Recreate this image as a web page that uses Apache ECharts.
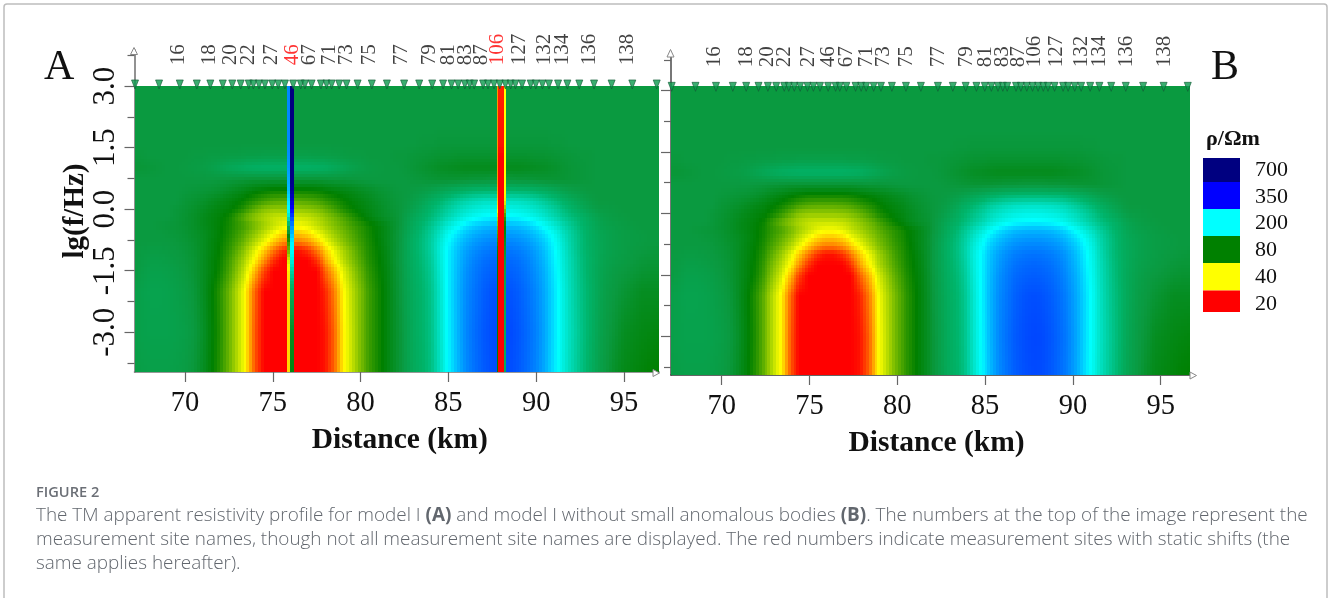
<!DOCTYPE html>
<html><head><meta charset="utf-8">
<style>html,body{margin:0;padding:0;background:#fff}#c{width:1328px;height:598px}</style>
<script src="https://cdn.jsdelivr.net/npm/echarts@6/dist/echarts.min.js"></script>
</head><body><div id="c"></div>
<script>
// ---- data ----
const columnKm = [67,67.5,68,68.5,69,69.5,70,70.5,71,71.5,72,72.5,73,73.5,74,74.5,75,75.5,76,76.5,77,77.5,78,78.5,79,79.5,80,80.5,81,81.5,82,82.5,83,83.5,84,84.5,85,85.5,86,86.5,87,87.5,88,88.5,89,89.5,90,90.5,91,91.5,92,92.5,93,93.5,94,94.5,95,95.5,96,96.5,97];
const rowLgF = [3.12,2,1.6,1.3,1,0.7,0.45,0.2,0,-0.2,-0.4,-0.6,-0.8,-1,-1.25,-1.5,-2,-3,-3.97];
const rhoField = [
[100,100,100,100,100,100,100,100,100,100,100,100,100,100,100,100,100,100,100,100,100,100,100,100,100,100,100,100,100,100,100,100,100,100,100,100,100,100,100,100,100,100,100,100,100,100,100,100,100,100,100,100,100,100,100,100,100,100,100,100,100],
[100,100,100,100,100,100,100,100,100,100,100,100,100,100,100,100,100,100,100,100,100,100,100,100,100,100,100,100,100,100,100,100,100,100,100,100,100,100,100,100,100,100,100,100,100,100,100,100,100,100,100,100,100,100,100,100,100,100,100,100,100],
[100,100,100,100,100,100,100,100,100,100,100,100,100,100,100,100,100,100,100,100,100,100,100,100,100,100,100,100,100,100,100,100,100,99,99,98,98,98,98,98,98,98,98,98,98,98,98,98,99,99,100,100,100,100,100,100,100,100,100,100,100],
[99,99,100,100,100,100,100,101,101,102,102,103,103,104,104,105,105,105,105,105,105,104,104,103,102,101,101,100,100,100,99,99,98,97,96,95,95,94,94,94,94,94,94,94,94,94,95,95,96,97,98,99,99,100,100,100,100,100,100,100,100],
[97,97,98,99,100,100,101,102,103,105,109,113,116,119,121,122,122,122,122,122,122,121,119,115,111,107,104,102,101,100,100,99,97,95,93,91,90,89,88,88,88,88,88,88,88,89,90,91,93,95,97,98,99,100,100,100,100,100,100,100,100],
[100,100,100,100,100,100,100,100,100,100,99,98,97,96,95,95,95,95,95,95,95,95,96,97,97,98,99,100,100,100,100,100,99,98,97,96,96,96,97,98,98,99,99,99,98,98,97,96,96,96,97,98,99,100,100,100,100,100,100,100,100],
[100,100,100,100,100,100,99,98,97,96,94,91,88,85,82,80,78,78,78,78,78,79,81,83,85,87,90,92,95,97,99,100,101,103,106,110,114,118,122,125,126,127,127,127,126,125,122,118,113,108,104,102,100,100,100,100,100,100,100,100,100],
[100,100,100,100,100,100,97,95,93,90,87,84,81,77,72,67,64,63,63,63,64,66,70,74,78,82,85,88,92,95,98,100,104,110,118,126,135,145,153,160,164,166,167,166,164,160,153,143,133,124,116,109,104,100,100,100,100,100,100,100,100],
[100,100,100,100,100,98,96,93,90,87,84,82,77,70,62,56,54,54,54,54,55,57,61,67,74,79,83,86,90,94,97,101,107,115,125,135,146,158,168,176,181,184,185,184,181,176,168,158,146,134,124,115,108,103,102,101,100,100,100,100,100],
[100,100,100,100,100,98,95,92,88,85,82,77,68,60,54,50,47,46,46,46,47,50,54,59,65,72,79,84,89,93,96,103,112,120,130,143,156,170,184,194,200,203,205,203,200,194,184,170,156,143,132,124,115,108,104,102,101,100,100,100,100],
[100,100,100,99,98,97,95,92,88,85,81,76,70,65,58,52,47,43,41,41,43,47,51,56,61,67,72,77,82,88,95,104,115,126,140,158,176,195,212,224,231,234,235,234,231,224,212,195,176,158,142,128,118,110,106,104,102,101,100,100,100],
[100,100,100,100,99,98,96,93,90,86,81,75,68,61,54,47,41,36,34,34,36,41,46,52,58,64,71,76,82,88,96,106,118,130,145,168,192,212,228,239,246,249,250,249,246,239,228,212,192,168,148,132,120,112,108,105,103,102,101,100,100],
[100,100,100,100,100,99,97,94,90,85,80,73,65,57,49,42,35,30,28,28,30,35,41,48,55,62,69,75,81,88,96,107,120,132,148,175,200,222,238,250,257,261,262,261,257,250,238,222,200,174,150,133,120,113,108,105,103,102,101,100,100],
[100,101,102,102,101,100,98,95,90,85,79,71,61,52,43,35,28,23,21,21,23,28,35,42,50,58,67,74,80,87,96,107,120,132,148,178,205,228,246,258,266,270,272,270,266,258,246,228,204,178,152,133,121,113,108,105,103,101,100,99,98],
[100,102,104,104,103,101,99,96,90,84,78,68,57,48,39,30,23,20,20,20,20,23,31,39,48,56,65,73,79,86,96,107,119,130,145,176,206,230,250,264,273,278,280,278,273,264,250,232,207,180,155,135,122,113,107,104,102,100,98,97,97],
[100,103,106,106,105,103,100,96,90,84,77,66,54,44,33,24,20,20,20,20,20,20,26,33,43,52,62,71,78,85,95,106,118,128,142,174,206,232,254,268,278,283,285,283,278,268,254,236,210,182,156,136,122,112,106,102,100,98,96,95,95],
[104,106,108,108,107,105,102,98,90,82,72,60,48,38,26,20,20,20,20,20,20,20,22,28,39,48,58,68,76,84,94,105,116,125,138,170,206,234,258,272,284,292,295,292,285,274,260,240,214,186,158,138,124,112,104,100,96,93,90,90,90],
[104,106,107,107,107,106,104,100,92,83,73,60,48,38,25,20,20,20,20,20,20,20,21,26,38,47,58,68,76,84,93,103,115,124,136,168,204,234,260,276,288,296,300,298,290,278,264,242,214,186,160,140,124,110,102,96,90,88,86,85,84],
[102,104,105,105,105,104,102,98,90,82,72,60,48,38,25,20,20,20,20,20,20,20,21,26,38,47,58,68,76,84,93,103,114,122,134,165,202,232,258,274,286,294,298,296,288,276,262,240,212,184,158,138,122,108,100,92,87,85,83,81,80]
];
// static-shift stripes of panel A, one value per row of rowLgF
const shift46Edges = [75.83,75.98,76.2];
const shift46Rho = [
[260,260,260,255,250,240,230,210,200,170,120,90,70,60,45,38,36,36,36],
[700,700,700,700,700,680,600,450,350,300,260,230,205,200,180,150,115,90,85]];
const shift106Edges = [87.76,87.85,88.17,88.28];
const shift106Rho = [
[30,30,30,30,30,30,32,35,38,48,58,65,72,78,80,80,80,80,80],
[22,21,21,20,20,20,20,20,20,20,20,20,20,20,20,20,20,20,20],
[40,40,40,40,40,40,40,42,55,70,80,85,90,95,100,105,110,115,115]];
const siteKm = [67.15,68.52,69.70,70.67,71.44,72.15,72.69,73.17,73.63,73.89,74.21,74.55,74.97,75.31,75.69,76.16,76.59,76.83,77.21,77.74,78.06,78.35,78.78,79.2,79.83,80.64,81.5,82.48,83.34,84.08,84.7,85.18,85.56,85.94,86.22,86.47,86.98,87.26,87.6,87.93,88.25,88.55,88.82,89.2,89.69,89.98,90.36,90.73,91.25,91.78,92.46,93.3,94.3,95.48,96.87];
const labelNames = ['16','18','20','22','27','46','67','71','73','75','77','79','81','83','87','106','127','132','134','136','138'];
const labelKm = [69.6,71.4,72.6,73.6,74.95,76.1,77.1,78.25,79.2,80.5,82.35,83.95,85.0,86.0,86.9,87.8,89.05,90.5,91.5,93.05,95.2];
const redNames = ['46','106'];
const xMajor = [70,75,80,85,90,95];
const xMinor = [67.5,72.5,77.5,82.5,87.5,92.5];
const yMajor = [3,1.5,0,-1.5,-3];
const yMinor = [3.75,2.25,0.75,-0.75,-2.25,-3.75];
const scaleRho = [20,40,80,100,125,200,350,700];
const scaleColors = ['#ff0000','#ffff00','#008000','#0a9a40','#00b46a','#00ffff','#0000ff','#000080'];
const legendLabels = ['700','350','200','80','40','20'];
const legendColors = ['#000080','#0000ff','#00ffff','#008000','#ffff00','#ff0000'];
const legendEdges = [158,182,209,236,263,290.5,312];
const captionHead = 'FIGURE 2';
const captionLines = [
 'The TM apparent resistivity profile for model I {b|(A)} and model I without small anomalous bodies {b|(B)}. The numbers at the top of the image represent the',
 'measurement site names, though not all measurement site names are displayed. The red numbers indicate measurement sites with static shifts (the',
 'same applies hereafter).'];

// ---- helpers ----
const SERIF = '"Liberation Serif","Times New Roman",serif';
const CAP = '"Open Sans","Noto Sans",sans-serif';
const logStops = scaleRho.map(Math.log);
// panel B's picture is very slightly narrower than panel A's along distance
const panelB = km => 67.15+(km-67.15)*0.989;
const same = km => km;
function rhoColor(lr){
  if(lr<=logStops[0]) return scaleColors[0];
  for(let i=1;i<logStops.length;i++){
    if(lr<=logStops[i]){
      const t=(lr-logStops[i-1])/(logStops[i]-logStops[i-1]);
      return echarts.color.lerp(t,[scaleColors[i-1],scaleColors[i]]);
    }
  }
  return scaleColors[scaleColors.length-1];
}
function fieldCells(xs,ys,table,map){
  const cells=[];
  for(let j=0;j<ys.length-1;j++)for(let i=0;i<xs.length-1;i++){
    cells.push([map(xs[i]),ys[j],map(xs[i+1]),ys[j+1],table[j][i],table[j][i+1],table[j+1][i],table[j+1][i+1]]);
  }
  return cells;
}
function stripeCells(edges,table){
  const cells=[];
  for(let c=0;c<table.length;c++)for(let j=0;j<rowLgF.length-1;j++){
    cells.push([edges[c],rowLgF[j],edges[c+1],rowLgF[j+1],table[c][j],table[c][j],table[c][j+1],table[c][j+1]]);
  }
  return cells;
}
function cellSeries(cells,xi,yi,xr,yTop,step){
  return {type:'custom',coordinateSystem:'cartesian2d',xAxisIndex:xi,yAxisIndex:yi,silent:true,animation:false,progressive:0,clip:true,z:2,
    data:cells.map(c=>c.slice(0,4)),encode:{x:[0,2],y:[1,3]},
    renderItem(params,api){
      const c=cells[params.dataIndex];
      const k0=Math.max(c[0],xr[0]),k1=Math.min(c[2],xr[1]);
      if(k1<=k0) return {type:'group',children:[]};
      const v0=Math.min(c[1],yTop),v1=c[3];
      if(v0<=v1) return {type:'group',children:[]};
      const pa=api.coord([k0,v0]),pb=api.coord([k1,v1]);
      const w=pb[0]-pa[0],h=pb[1]-pa[1];
      const nx=Math.max(1,Math.round(w/step)),ny=Math.max(1,Math.round(h/step));
      const l=[c[4],c[5],c[6],c[7]].map(Math.log);
      const kids=[];
      for(let a=0;a<ny;a++){
        const y0=Math.round(pa[1]+h*a/ny),y1=Math.round(pa[1]+h*(a+1)/ny);
        const vm=v0+(v1-v0)*(a+0.5)/ny,tv=(c[1]-vm)/(c[1]-c[3]);
        for(let b=0;b<nx;b++){
          const x0=Math.round(pa[0]+w*b/nx),x1=Math.round(pa[0]+w*(b+1)/nx);
          const km=k0+(k1-k0)*(b+0.5)/nx,tu=(km-c[0])/(c[2]-c[0]);
          const lr=(l[0]*(1-tu)+l[1]*tu)*(1-tv)+(l[2]*(1-tu)+l[3]*tu)*tv;
          kids.push({type:'rect',shape:{x:x0,y:y0,width:Math.max(1,x1-x0),height:Math.max(1,y1-y0)},style:{fill:rhoColor(lr)}});
        }
      }
      return {type:'group',children:kids};
    }};
}
function sitesSeries(xi,yi,yVal,border,map){
  return {type:'scatter',xAxisIndex:xi,yAxisIndex:yi,clip:false,silent:true,animation:false,z:5,
    symbol:'triangle',symbolRotate:180,symbolSize:[7,9],
    itemStyle:{color:'#0a9a4c',borderColor:border,borderWidth:0.8},
    data:siteKm.map(k=>[map(k),yVal])};
}
function labelSeries(xi,yi,yVal,useRed){
  return {type:'scatter',xAxisIndex:xi,yAxisIndex:yi,clip:false,silent:true,animation:false,z:6,
    symbolSize:1,itemStyle:{color:'rgba(0,0,0,0)'},
    data:labelNames.map((n,i)=>({value:[labelKm[i],yVal],
      label:{show:true,position:'inside',rotate:90,align:'left',verticalAlign:'middle',
        formatter:n,fontFamily:SERIF,fontSize:21,color:(useRed&&redNames.includes(n))?'#ff0000':'#111'}}))};
}
function xAxes(gi,mn,mx,color,name,pad){
  const base={type:'value',gridIndex:gi,min:mn,max:mx,position:'bottom',splitLine:{show:false}};
  return [
   {...base,name,nameLocation:'middle',nameGap:53,nameTextStyle:{fontFamily:SERIF,fontSize:29.5,fontWeight:'bold',color:'#111',padding:pad},
    axisLine:{show:true,onZero:false,lineStyle:{color,width:1.6}},
    axisTick:{show:true,customValues:xMajor,length:10,lineStyle:{color:'#666',width:1.2}},
    axisLabel:{show:true,customValues:xMajor,margin:17,fontFamily:SERIF,fontSize:28.5,color:'#111',showMinLabel:true,showMaxLabel:true}},
   {...base,axisLine:{show:false},axisLabel:{show:false},
    axisTick:{show:true,customValues:xMinor,length:7,lineStyle:{color:'#666',width:1.2}}}];
}
function yAxes(gi,mn,mx,color,name,showLabels){
  const base={type:'value',gridIndex:gi,min:mn,max:mx,position:'left',splitLine:{show:false}};
  return [
   {...base,name,nameLocation:'middle',nameGap:42,nameRotate:90,nameTextStyle:{fontFamily:SERIF,fontSize:29,fontWeight:'bold',color:'#111'},
    axisLine:{show:true,onZero:false,lineStyle:{color,width:1.6}},
    axisTick:{show:true,customValues:yMajor,length:10,lineStyle:{color:'#666',width:1.2}},
    axisLabel:{show:showLabels,customValues:yMajor,rotate:90,margin:13,fontFamily:SERIF,fontSize:31,color:'#111',
      formatter:v=>v.toFixed(1)}},
   {...base,axisLine:{show:false},axisLabel:{show:false},
    axisTick:{show:true,customValues:yMinor,length:7,lineStyle:{color:'#666',width:1.2}}}];
}
const A={left:134.5,top:50,width:524.5,height:322,x:[67.12,97],y:[-3.97,3.88]};
const B={left:671,top:53,width:519,height:322,x:[67.11,96.67],y:[-3.94,3.915]};
const tri=(pts)=>({type:'polygon',silent:true,z:10,shape:{points:pts},style:{fill:'#fff',stroke:'#888',lineWidth:1}});
const gfx=[
 {type:'rect',silent:true,z:0,shape:{x:4,y:4,width:1323,height:700,r:3},style:{fill:'none',stroke:'#bdbdbd',lineWidth:1.5}},
 {type:'text',silent:true,x:44,y:47,style:{text:'A',font:'42px '+SERIF,fill:'#111'}},
 {type:'text',silent:true,x:1211,y:47,style:{text:'B',font:'42px '+SERIF,fill:'#111'}},
 {type:'text',silent:true,x:1206,y:128,style:{text:'ρ/Ωm',font:'bold 22px '+SERIF,fill:'#111'}},
 {type:'text',silent:true,x:36,y:485,style:{text:captionHead,font:'600 14.6px '+CAP,fill:'#6b6f76'}},
 tri([[134,47.5],[130.5,54.5],[137.5,54.5]]),
 tri([[659.5,373],[653,369.5],[653,376.5]]),
 tri([[670.5,49.5],[667,57],[674,57]]),
 tri([[1196.5,375.5],[1190,372],[1190,379]])
];
legendLabels.forEach((t,i)=>{
  gfx.push({type:'rect',silent:true,shape:{x:1203,y:legendEdges[i],width:37,height:legendEdges[i+1]-legendEdges[i]},style:{fill:legendColors[i]}});
  gfx.push({type:'text',silent:true,x:1255,y:170+i*26.8,style:{text:t,font:'22px '+SERIF,fill:'#111',verticalAlign:'middle'}});
});
captionLines.forEach((t,i)=>{
  gfx.push({type:'text',silent:true,x:36,y:516+i*24,style:{text:t,fontFamily:CAP,fontSize:18.9,fontWeight:300,fill:'#62676e',verticalAlign:'middle',
    rich:{b:{fontFamily:CAP,fontSize:18.9,fontWeight:'bold',fill:'#62676e'}}}});
});
const chart=echarts.init(document.getElementById('c'),null,{renderer:'canvas'});
const field=fieldCells(columnKm,rowLgF,rhoField,same);
const fieldB=fieldCells(columnKm,rowLgF,rhoField,panelB);
chart.setOption({
 animation:false,backgroundColor:'#fff',
 grid:[{left:A.left,top:A.top,width:A.width,height:A.height},{left:B.left,top:B.top,width:B.width,height:B.height}],
 xAxis:[...xAxes(0,A.x[0],A.x[1],'#777','Distance (km)',[0,0,0,6]),...xAxes(1,B.x[0],B.x[1],'#333','Distance (km)',[0,0,0,12])],
 yAxis:[...yAxes(0,A.y[0],A.y[1],'#777','lg(f/Hz)',true),...yAxes(1,B.y[0],B.y[1],'#555','',false)],
 graphic:gfx,
 series:[
  cellSeries(field,0,0,A.x,3.0,3.4),
  cellSeries(stripeCells(shift46Edges,shift46Rho),0,0,A.x,3.0,3.4),
  cellSeries(stripeCells(shift106Edges,shift106Rho),0,0,A.x,3.0,3.4),
  sitesSeries(0,0,3.04,'#125c36',same),
  labelSeries(0,0,3.51,true),
  cellSeries(fieldB,2,2,B.x,3.12,3.4),
  sitesSeries(2,2,3.09,'#125c36',panelB),
  labelSeries(2,2,3.57,false)
 ]
});
</script></body></html>
